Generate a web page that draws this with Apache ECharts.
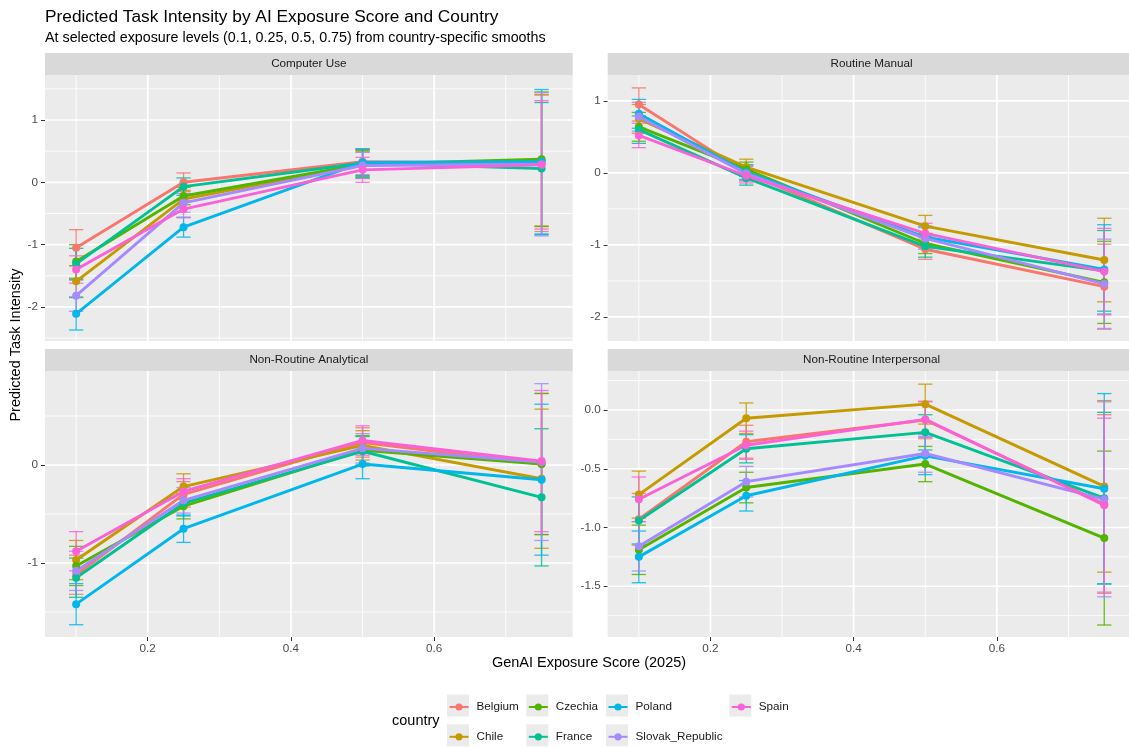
<!DOCTYPE html>
<html>
<head>
<meta charset="utf-8">
<title>Predicted Task Intensity by AI Exposure Score and Country</title>
<script src="https://cdn.jsdelivr.net/npm/echarts@6.0.0/dist/echarts.min.js"></script>
<style>
  html, body { margin: 0; padding: 0; background: #ffffff; }
  #chart { width: 1129px; height: 747px; }
</style>
</head>
<body>
<div id="chart"></div>
<script>
// ---- data -------------------------------------------------------------
const exposure = [0.1, 0.25, 0.5, 0.75];
const countries = ['Belgium', 'Chile', 'Czechia', 'France', 'Poland', 'Slovak_Republic', 'Spain'];
const countryColors = ['#F8766D', '#C49A00', '#53B400', '#00C094', '#00B6EB', '#A58AFF', '#FB61D7'];
const facetTitles = ['Computer Use', 'Routine Manual', 'Non-Routine Analytical', 'Non-Routine Interpersonal'];

// predicted values, one row per country (same order as `countries`), one column per exposure level
const fitComputerUse = [
  [-1.05,  0.00,  0.33,  0.31],
  [-1.59, -0.27,  0.28,  0.35],
  [-1.27, -0.22,  0.29,  0.37],
  [-1.31, -0.07,  0.31,  0.22],
  [-2.11, -0.72,  0.32,  0.33],
  [-1.82, -0.33,  0.27,  0.29],
  [-1.40, -0.43,  0.20,  0.28]
];
// half-width of the 95% interval
const ciComputerUse = [
  [0.29, 0.15, 0.21, 1.10],
  [0.25, 0.14, 0.21, 1.05],
  [0.27, 0.14, 0.22, 1.08],
  [0.25, 0.14, 0.22, 1.06],
  [0.26, 0.16, 0.21, 1.16],
  [0.25, 0.15, 0.21, 1.15],
  [0.22, 0.14, 0.20, 1.03]
];

const fitRoutineManual = [
  [ 0.95,  0.00, -1.06, -1.58],
  [ 0.75,  0.08, -0.74, -1.21],
  [ 0.64,  0.05, -0.98, -1.52],
  [ 0.60, -0.07, -1.02, -1.36],
  [ 0.82,  0.01, -0.89, -1.34],
  [ 0.78, -0.01, -0.91, -1.54],
  [ 0.52, -0.04, -0.84, -1.37]
];
const ciRoutineManual = [
  [0.23, 0.11, 0.14, 0.59],
  [0.20, 0.11, 0.15, 0.58],
  [0.20, 0.10, 0.14, 0.57],
  [0.19, 0.10, 0.15, 0.56],
  [0.20, 0.10, 0.15, 0.62],
  [0.20, 0.10, 0.15, 0.62],
  [0.17, 0.10, 0.14, 0.60]
];

const fitAnalytical = [
  [-1.12, -0.30,  0.23,  0.01],
  [-0.97, -0.22,  0.20, -0.14],
  [-1.03, -0.42,  0.15,  0.01],
  [-1.15, -0.39,  0.14, -0.33],
  [-1.42, -0.65,  0.01, -0.15],
  [-1.08, -0.36,  0.17,  0.03],
  [-0.88, -0.27,  0.25,  0.04]
];
const ciAnalytical = [
  [0.20, 0.13, 0.15, 0.72],
  [0.20, 0.13, 0.15, 0.71],
  [0.20, 0.13, 0.15, 0.72],
  [0.20, 0.13, 0.15, 0.70],
  [0.21, 0.14, 0.15, 0.77],
  [0.20, 0.13, 0.15, 0.80],
  [0.20, 0.13, 0.15, 0.72]
];

const fitInterpersonal = [
  [-0.93, -0.27, -0.085, -0.80],
  [-0.72, -0.07,  0.05,  -0.65],
  [-1.19, -0.66, -0.46,  -1.09],
  [-0.94, -0.33, -0.19,  -0.75],
  [-1.25, -0.73, -0.39,  -0.67],
  [-1.16, -0.61, -0.37,  -0.76],
  [-0.76, -0.30, -0.08,  -0.81]
];
const ciInterpersonal = [
  [0.22, 0.14, 0.16, 0.76],
  [0.20, 0.13, 0.17, 0.73],
  [0.21, 0.13, 0.15, 0.74],
  [0.20, 0.12, 0.15, 0.73],
  [0.22, 0.13, 0.16, 0.81],
  [0.21, 0.13, 0.16, 0.83],
  [0.19, 0.12, 0.15, 0.74]
];

// ---- axis breaks ------------------------------------------------------
const xBreaks = [0.2, 0.4, 0.6];
const xMinorBreaks = [0.1, 0.3, 0.5, 0.7];
const yBreaksComputerUse = [-2, -1, 0, 1];
const yMinorComputerUse = [-2.5, -1.5, -0.5, 0.5, 1.5];
const yBreaksRoutineManual = [-2, -1, 0, 1];
const yMinorRoutineManual = [-1.5, -0.5, 0.5];
const yBreaksAnalytical = [-1, 0];
const yMinorAnalytical = [-1.5, -0.5, 0.5];
const yBreaksInterpersonal = [-1.5, -1.0, -0.5, 0.0];
const yMinorInterpersonal = [-1.75, -1.25, -0.75, -0.25, 0.25];

// ---- layout & styling -------------------------------------------------
const FONT = '"Liberation Sans", Arial, Helvetica, sans-serif';
const X_MIN = 0.0565, X_MAX = 0.7935;
const PANEL_W = 527.7, PANEL_H = 266, STRIP_H = 22;
const CAP = 0.01;   // half the error-bar cap width, in data units

const panels = [
  { title: facetTitles[0], fit: fitComputerUse,   ci: ciComputerUse,   yMin: -2.547, yMax: 1.722, breaks: yBreaksComputerUse,   minor: yMinorComputerUse,   digits: 0, left: 45,    top: 75 },
  { title: facetTitles[1], fit: fitRoutineManual, ci: ciRoutineManual, yMin: -2.334, yMax: 1.359, breaks: yBreaksRoutineManual, minor: yMinorRoutineManual, digits: 0, left: 607.7, top: 75 },
  { title: facetTitles[2], fit: fitAnalytical,    ci: ciAnalytical,    yMin: -1.755, yMax: 0.959, breaks: yBreaksAnalytical,    minor: yMinorAnalytical,    digits: 0, left: 45,    top: 371 },
  { title: facetTitles[3], fit: fitInterpersonal, ci: ciInterpersonal, yMin: -1.932, yMax: 0.332, breaks: yBreaksInterpersonal, minor: yMinorInterpersonal, digits: 1, left: 607.7, top: 371 }
];

// white panel grid lines; each item is [x, y, horizontal, major] and is
// positioned through the panel's own axes
function renderGridLine(params, api) {
  const horizontal = api.value(2) === 1, major = api.value(3) === 1;
  const cs = params.coordSys;
  const p = api.coord([api.value(0), api.value(1)]);
  const shape = horizontal
    ? { x1: cs.x, y1: p[1], x2: cs.x + cs.width, y2: p[1] }
    : { x1: p[0], y1: cs.y, x2: p[0], y2: cs.y + cs.height };
  return { type: 'line', shape, silent: true,
           style: { stroke: '#FFFFFF', lineWidth: major ? 1.7 : 0.85 } };
}

function errorBarRenderer(color) {
  return function (params, api) {
    const x = api.value(0), lo = api.value(1), hi = api.value(2);
    const a = api.coord([x, lo]), b = api.coord([x, hi]);
    const l1 = api.coord([x - CAP, lo]), r1 = api.coord([x + CAP, lo]);
    const l2 = api.coord([x - CAP, hi]), r2 = api.coord([x + CAP, hi]);
    const st = { stroke: color, lineWidth: 1.3, opacity: 0.85 };
    return { type: 'group', children: [
      { type: 'line', shape: { x1: a[0], y1: a[1], x2: b[0], y2: b[1] }, style: st },
      { type: 'line', shape: { x1: l1[0], y1: l1[1], x2: r1[0], y2: r1[1] }, style: st },
      { type: 'line', shape: { x1: l2[0], y1: l2[1], x2: r2[0], y2: r2[1] }, style: st }
    ] };
  };
}

const grids = panels.map(p => ({
  left: p.left, top: p.top, width: PANEL_W, height: PANEL_H,
  show: true, backgroundColor: '#EBEBEB', borderWidth: 0,
  containLabel: false, outerBoundsMode: 'none'
}));

const xAxes = panels.map((p, i) => ({
  type: 'value', gridIndex: i, min: X_MIN, max: X_MAX,
  position: 'bottom',
  show: i >= 2,
  axisLine: { show: false, onZero: false },
  axisPointer: { show: false },
  splitLine: { show: false },
  minorSplitLine: { show: false },
  axisTick: { show: true, length: 4, customValues: xBreaks, lineStyle: { color: '#333333', width: 1 } },
  axisLabel: { show: true, customValues: xBreaks, margin: 6, color: '#4D4D4D', fontSize: 11.7, fontFamily: FONT,
               formatter: v => v.toFixed(1) }
}));

const yAxes = panels.map((p, i) => ({
  type: 'value', gridIndex: i, min: p.yMin, max: p.yMax,
  position: 'left',
  axisLine: { show: false, onZero: false },
  axisPointer: { show: false },
  splitLine: { show: false },
  minorSplitLine: { show: false },
  axisTick: { show: true, length: 4, customValues: p.breaks, lineStyle: { color: '#333333', width: 1 } },
  axisLabel: { show: true, customValues: p.breaks, margin: 7, color: '#4D4D4D', fontSize: 11.7, fontFamily: FONT,
               formatter: v => v.toFixed(p.digits) }
}));

const lineSeries = [];
const barSeries = [];
const gridSeries = [];

panels.forEach((p, i) => {
  const yMid = (p.yMin + p.yMax) / 2;
  const xMid = (X_MIN + X_MAX) / 2;
  const gridData = []
    .concat(xMinorBreaks.map(v => [v, yMid, 0, 0]))
    .concat(p.minor.map(v => [xMid, v, 1, 0]))
    .concat(xBreaks.map(v => [v, yMid, 0, 1]))
    .concat(p.breaks.map(v => [xMid, v, 1, 1]));
  gridSeries.push({
    type: 'custom', name: 'panel-grid-' + i, xAxisIndex: i, yAxisIndex: i, z: 1,
    silent: true, renderItem: renderGridLine, data: gridData,
    encode: { x: 0, y: 1 }, label: { show: false }
  });

  countries.forEach((c, k) => {
    const color = countryColors[k];
    lineSeries.push({
      type: 'line', name: c, xAxisIndex: i, yAxisIndex: i, z: 3,
      data: exposure.map((x, j) => [x, p.fit[k][j]]),
      symbol: 'circle', symbolSize: 8, showSymbol: true,
      lineStyle: { color, width: 2.9 },
      itemStyle: { color },
      label: { show: false },
      emphasis: { disabled: true }
    });
    barSeries.push({
      type: 'custom', name: c, xAxisIndex: i, yAxisIndex: i, z: 2,
      renderItem: errorBarRenderer(color),
      data: exposure.map((x, j) => [x, p.fit[k][j] - p.ci[k][j], p.fit[k][j] + p.ci[k][j]]),
      encode: { x: 0, y: [1, 2] },
      label: { show: false },
      silent: true
    });
  });
});

// legend: four columns, two rows
const legendPos = [
  [448.5, 701], [448.5, 730.8], [527.8, 701], [527.8, 730.8],
  [607.5, 701], [607.5, 730.8], [730.8, 701]
];
const legends = countries.map((c, k) => ({
  show: true, data: [c], left: legendPos[k][0], top: legendPos[k][1],
  padding: 0, itemWidth: 19, itemHeight: 9, selectedMode: false,
  textStyle: { fontSize: 11.7, color: '#1A1A1A', fontFamily: FONT, padding: [0, 0, 0, 3] }
}));

const graphics = [];
panels.forEach(p => {
  graphics.push({ type: 'rect', z: 0, silent: true,
    shape: { x: p.left, y: p.top - STRIP_H, width: PANEL_W, height: STRIP_H },
    style: { fill: '#D9D9D9' } });
  graphics.push({ type: 'text', z: 1, silent: true,
    x: p.left + PANEL_W / 2, y: p.top - STRIP_H / 2,
    style: { text: p.title, fill: '#1A1A1A', font: '11.7px ' + FONT, align: 'center', verticalAlign: 'middle' } });
});
legendPos.forEach(pos => {
  graphics.push({ type: 'rect', z: 0, silent: true,
    shape: { x: pos[0] - 1.5, y: pos[1] + 4.5 - 11, width: 22, height: 22 },
    style: { fill: '#EBEBEB' } });
});
graphics.push(
  { type: 'text', silent: true, x: 45, y: 17,
    style: { text: 'Predicted Task Intensity by AI Exposure Score and Country', fill: '#000000',
             font: '17.3px ' + FONT, align: 'left', verticalAlign: 'middle' } },
  { type: 'text', silent: true, x: 45, y: 38,
    style: { text: 'At selected exposure levels (0.1, 0.25, 0.5, 0.75) from country-specific smooths', fill: '#000000',
             font: '14.3px ' + FONT, align: 'left', verticalAlign: 'middle' } },
  { type: 'text', silent: true, x: 589, y: 663,
    style: { text: 'GenAI Exposure Score (2025)', fill: '#000000',
             font: '14.5px ' + FONT, align: 'center', verticalAlign: 'middle' } },
  { type: 'text', silent: true, x: 16, y: 345, rotation: Math.PI / 2,
    style: { text: 'Predicted Task Intensity', fill: '#000000',
             font: '14.5px ' + FONT, align: 'center', verticalAlign: 'middle' } },
  { type: 'text', silent: true, x: 392, y: 721,
    style: { text: 'country', fill: '#000000',
             font: '14.5px ' + FONT, align: 'left', verticalAlign: 'middle' } }
);

const chart = echarts.init(document.getElementById('chart'), null, { renderer: 'canvas' });
chart.setOption({
  animation: false,
  backgroundColor: '#FFFFFF',
  textStyle: { fontFamily: FONT },
  tooltip: { show: false },
  grid: grids,
  xAxis: xAxes,
  yAxis: yAxes,
  legend: legends,
  graphic: { elements: graphics },
  series: lineSeries.concat(barSeries, gridSeries)
});
</script>
</body>
</html>
